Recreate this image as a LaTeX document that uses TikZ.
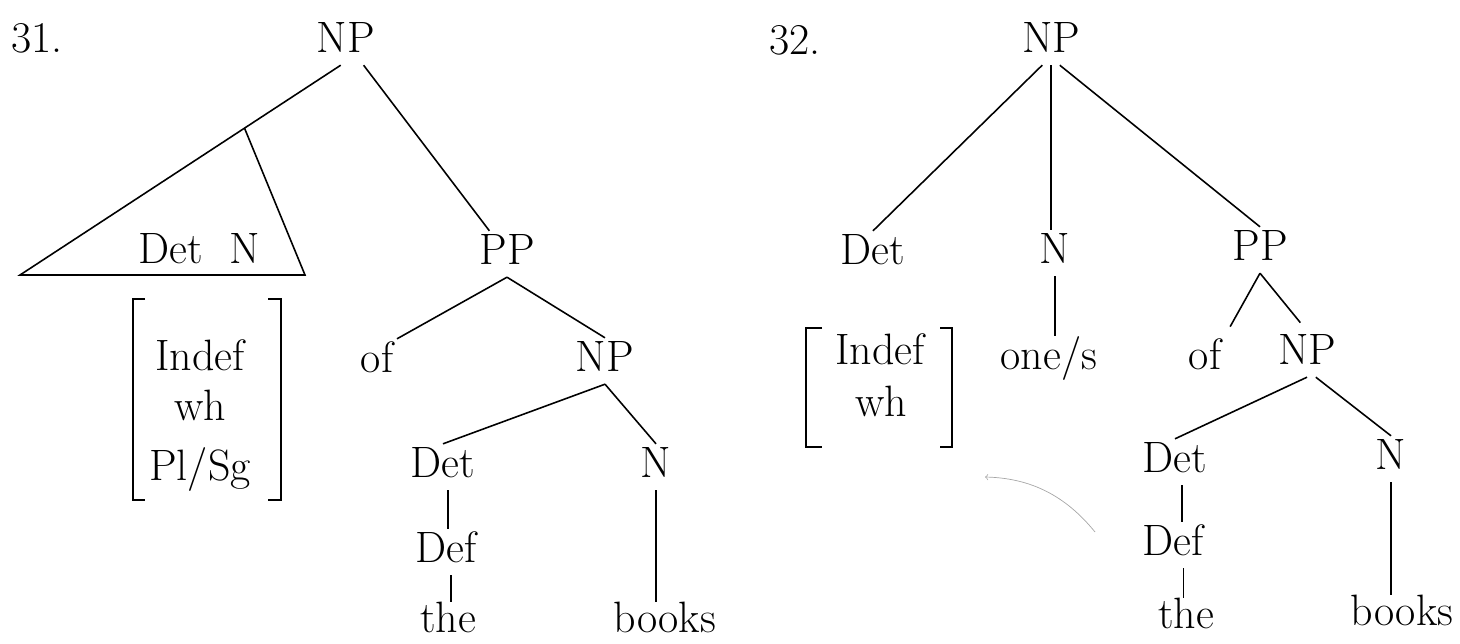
\documentclass[tikz,border=0pt]{standalone}
\usetikzlibrary{calc}
\begin{document}
\begin{tikzpicture}[x=0.02cm, y=-0.02cm, lbl/.style={inner sep=2pt, text height=17pt, text depth=5pt, font=\fontsize{25}{30}\selectfont}, leaf/.style={lbl, inner sep=0pt}, edge/.style={line width=0.9pt}, brk/.style={line width=1.1pt}]
	\useasboundingbox (0,0) rectangle (1460,643);
	\node[lbl] (num1) at (37,42) {31.};
	\node[lbl] (np1) at (346,42) {NP};
	\coordinate (tl) at (20,275);
	\coordinate (tr) at (305,275);
	\node[lbl] (det1) at (171,253) {Det};
	\node[lbl] (n1) at (245,253) {N};
	\node[lbl] (pp1) at (507,254) {PP};
	\node[lbl, anchor=base] (indef1) at (200,370) {Indef};
	\node[lbl, anchor=base] (wh1) at (200,420) {wh};
	\node[lbl, anchor=base] (plsg1) at (200,480) {Pl/Sg};
	\node[lbl] (of1) at (377,362) {of};
	\node[lbl] (np2) at (605,361) {NP};
	\node[lbl] (det2) at (443,467) {Det};
	\node[lbl] (n2) at (656,467) {N};
	\node[lbl] (def1) at (446,552) {Def};
	\node[leaf] (the1) at (448,622) {the};
	\node[leaf] (books1) at (665,622) {books};
	\coordinate (npl) at ([xshift=-3pt]np1.south);
	\coordinate (apex) at ($(npl)!0.3!(tl)$);
	\draw[edge] (npl) -- (tl) -- (tr) -- (apex);
	\draw[edge] (np1) -- (pp1);
	\draw[edge] (pp1.south) -- (of1.north east);
	\draw[edge] (pp1.south) -- (np2.north);
	\draw[edge] (np2.south) -- (det2.north);
	\draw[edge] (np2.south) -- (n2.north);
	\draw[edge] ([xshift=3pt]det2.south) -- ([xshift=3pt]det2.south |- def1.north);
	\draw[edge] ([xshift=3pt]def1.south) -- ([xshift=3pt]def1.south |- the1.north);
	\draw[edge] (n2.south) -- (n2.south |- books1.north);
	\draw[brk] (145,299) -- (133,299) -- (133,500) -- (145,500);
	\draw[brk] (268,299) -- (281,299) -- (281,500) -- (268,500);
	\node[lbl] (num2) at (795,44) {32.};
	\node[lbl] (np3) at (1051,42) {NP};
	\node[lbl] (det3) at (873,254) {Det};
	\node[lbl] (n3) at (1055,253) {N};
	\node[lbl] (pp2) at (1260,250) {PP};
	\node[lbl, anchor=base] (indef2) at (880,364) {Indef};
	\node[lbl, anchor=base] (wh2) at (881,416) {wh};
	\node[lbl] (ones) at (1049,359) {one/s};
	\node[lbl] (of2) at (1205,359) {of};
	\node[lbl] (np4) at (1307,354) {NP};
	\node[lbl] (det4) at (1175,462) {Det};
	\node[lbl] (n4) at (1391,459) {N};
	\node[lbl] (def2) at (1173,545) {Def};
	\node[leaf] (the2) at (1186,618) {the};
	\node[leaf] (books2) at (1402,615) {books};
	\draw[edge] ([xshift=-5pt]np3.south) -- (det3.north);
	\draw[edge] (np3.south) -- (np3.south |- n3.north);
	\draw[edge] ([xshift=5pt]np3.south) -- (pp2.north);
	\draw[edge] (n3.south) -- (n3.south |- ones.north);
	\draw[edge, shorten >=6pt] (pp2.south) -- (of2.north east);
	\draw[edge, shorten >=6pt] (pp2.south) -- (np4.north);
	\draw[edge] (np4.south) -- (det4.north);
	\draw[edge] ([xshift=5pt]np4.south) -- (n4.north);
	\draw[edge] ([xshift=4pt]det4.south) -- ([xshift=4pt]det4.south |- def2.north);
	\draw[edge] ([xshift=6pt]def2.south) -- ([xshift=6pt]def2.south |- the2.north);
	\draw[edge] (n4.south) -- (n4.south |- books2.north);
	\draw[brk] (822,328) -- (806,328) -- (806,447) -- (822,447);
	\draw[brk] (940,328) -- (952,328) -- (952,447) -- (940,447);
	\draw[gray!70, thin, ->] (1095,532) .. controls (1065,495) and (1030,478) .. (985,477);
\end{tikzpicture}
\end{document}
